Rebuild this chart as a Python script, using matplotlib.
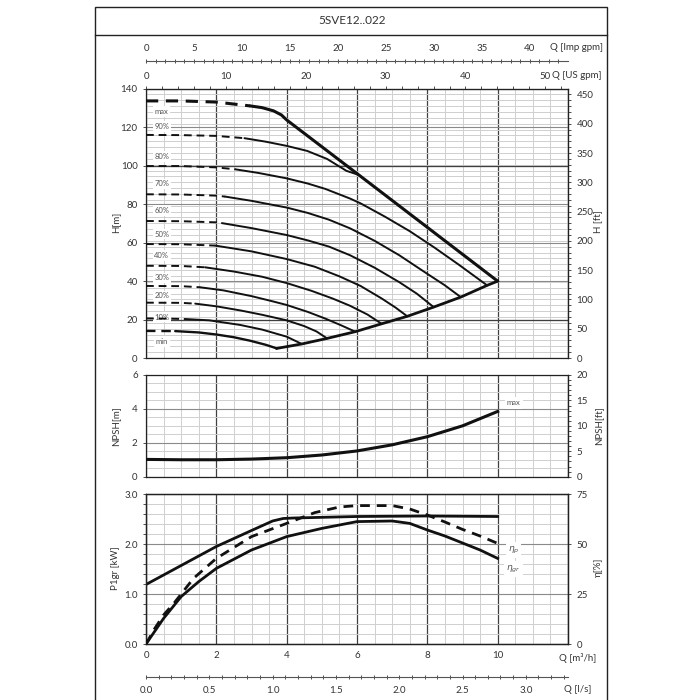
import numpy as np
import matplotlib.pyplot as plt
from matplotlib.ticker import MultipleLocator, FixedLocator, FormatStrFormatter, FuncFormatter
from matplotlib.patches import Rectangle
from matplotlib.lines import Line2D

plt.rcParams['font.family'] = ['Lato', 'DejaVu Sans']
plt.rcParams['mathtext.fontset'] = 'dejavusans'

# ---- head curves, Q [m3/h] / H [m] ----
q_max = [0, 1, 2, 2.96, 3.3, 3.63, 3.85, 4.0, 6.0, 8.0, 10.0]
h_max = [133.8, 133.8, 133.2, 131.2, 130.3, 128.6, 126.5, 123.9, 96.0, 68.0, 40.0]
q_90 = [0, 1, 2, 2.8, 3.4, 4.0, 4.58, 5.15, 5.7, 6.05]
h_90 = [116.1, 116.0, 115.6, 114.4, 112.6, 110.4, 107.8, 103.6, 97.4, 95.3]
q_80 = [0, 1, 2, 2.54, 3.2, 4.0, 4.6, 5.1, 5.8, 6.1, 6.8, 7.5, 8.2, 8.9, 9.7]
h_80 = [99.9, 99.9, 99.2, 98.2, 96.3, 93.5, 90.8, 88.0, 83.0, 80.5, 73.5, 66.0, 57.5, 48.5, 37.8]
q_70 = [0, 1, 2, 2.25, 3, 4, 4.6, 5.2, 5.8, 6.5, 7.2, 7.9, 8.5, 8.95]
h_70 = [85.2, 85.1, 84.5, 84.0, 81.8, 78.3, 75.5, 72.0, 67.5, 61.0, 53.5, 45.0, 37.8, 31.7]
q_60 = [0, 1, 2, 2.16, 3, 4, 4.6, 5.2, 5.8, 6.5, 7.2, 7.7, 8.18]
h_60 = [71.3, 71.2, 70.6, 70.2, 67.6, 64.0, 61.2, 58.0, 53.5, 47.0, 39.5, 33.5, 26.5]
q_50 = [0, 1, 1.97, 3, 4, 4.8, 5.5, 6.1, 6.7, 7.1, 7.43]
h_50 = [59.3, 59.2, 58.5, 55.5, 51.5, 47.5, 42.5, 37.5, 31.0, 26.2, 21.7]
q_40 = [0, 1, 1.68, 2.5, 3.3, 4, 4.7, 5.3, 5.8, 6.3, 6.7]
h_40 = [48.0, 47.9, 47.2, 45.0, 42.3, 39.0, 35.0, 31.0, 27.2, 22.6, 17.8]
q_30 = [0, 1, 1.54, 2.2, 3, 3.6, 4, 4.6, 5.1, 5.55, 5.95]
h_30 = [37.5, 37.4, 36.8, 35.2, 32.2, 29.5, 27.6, 24.0, 20.5, 17.0, 13.7]
q_20 = [0, 1, 1.4, 2, 2.7, 3.3, 4, 4.5, 4.85, 5.15]
h_20 = [28.8, 28.7, 28.3, 26.9, 24.7, 22.5, 19.6, 16.6, 13.8, 10.2]
q_10 = [0, 0.6, 1.1, 1.8, 2.68, 3.3, 4, 4.43]
h_10 = [20.6, 20.5, 20.3, 19.6, 17.2, 14.8, 11.1, 7.3]
q_min = [0, 0.83, 1.5, 2.01, 2.5, 2.96, 3.4, 3.72]
h_min = [14.1, 14.0, 13.3, 12.2, 10.8, 9.0, 6.9, 5.0]

# end of the dashed part (minimum flow) for each curve
minflow = [2.96, 2.8, 2.54, 2.25, 2.16, 1.97, 1.68, 1.54, 1.4, 1.1, 0.83]
speed_names = ['max', '90%', '80%', '70%', '60%', '50%', '40%', '30%', '20%', '10%', 'min']
label_h = [128.2, 120.4, 104.8, 90.6, 76.7, 64.5, 53.3, 41.8, 32.3, 21.2, 8.5]

# lower limit line joining curve ends
q_lim = [3.72, 4.43, 5.15, 5.95, 6.7, 7.43, 8.18, 8.95, 9.7, 10.0]
h_lim = [5.0, 7.3, 10.2, 13.7, 17.8, 21.7, 26.5, 31.7, 37.8, 40.0]

# ---- NPSH ----
q_npsh = [0, 1, 2, 3, 4, 5, 6, 7, 8, 9, 10]
npsh = [1.02, 1.0, 1.0, 1.04, 1.12, 1.28, 1.52, 1.88, 2.36, 3.0, 3.85]

# ---- power / efficiency ----
q_p1 = [0, 1, 2, 3, 3.6, 3.9, 4.2, 6, 8, 10]
p1 = [1.19, 1.57, 1.95, 2.27, 2.46, 2.51, 2.52, 2.55, 2.56, 2.55]
q_etap = [0, 0.25, 0.5, 0.8, 1.35, 2, 3, 4, 4.8, 5.5, 6, 7, 7.5, 8, 8.5, 9, 9.5, 10]
eta_p = [0, 7.8, 14.5, 20.5, 32.8, 42.8, 53.7, 60.3, 65.7, 68.5, 69.2, 69.2, 67.5, 64.5, 61.0, 57.3, 54.0, 50.3]
q_etagr = [0, 0.5, 1, 1.5, 2, 3, 4, 5, 6, 7, 7.5, 8, 8.5, 9, 9.5, 10]
eta_gr = [0, 12.8, 23.7, 31.2, 37.8, 47.0, 53.7, 57.8, 61.2, 61.5, 60.3, 57.0, 54.0, 50.5, 47.0, 42.8]

# tick values of the extra unit scales
usgpm_ticks = [0, 10, 20, 30, 40, 50]
impgpm_ticks = [0, 5, 10, 15, 20, 25, 30, 35, 40]
ls_ticks = [0.0, 0.5, 1.0, 1.5, 2.0, 2.5, 3.0]

M3H_TO_USGPM = 4.4029
M3H_TO_IMPGPM = 3.6662
M_TO_FT = 3.28084
NPSH_FT = 20 / 6.0

fig = plt.figure(figsize=(7, 7), dpi=100)
W = H = 700.0


def fx(px):
    return px / W


def fy(py):
    return 1 - py / H


left, right = 146, 568
ax1 = fig.add_axes([fx(left), fy(358), fx(right - left), (358 - 89) / H])
ax2 = fig.add_axes([fx(left), fy(476.7), fx(right - left), (476.7 - 375) / H])
ax3 = fig.add_axes([fx(left), fy(644), fx(right - left), (644 - 494) / H])

tick_kw = dict(labelsize=7, colors='#333', labelcolor='#333')
light = '#cfcfcf'
mid = '#8a8a8a'
dark = '#404040'

for ax in (ax1, ax2, ax3):
    ax.set_xlim(0, 12)
    ax.xaxis.set_major_locator(MultipleLocator(2))
    ax.xaxis.set_minor_locator(MultipleLocator(0.5))
    ax.grid(which='minor', axis='x', color=light, lw=0.7)
    ax.grid(which='major', axis='x', color=dark, lw=0.9)
    ax.set_axisbelow(True)
    for s in ax.spines.values():
        s.set_color('#222')
        s.set_linewidth(0.9)
    ax.tick_params(which='both', direction='out', length=2.5, width=0.6, **tick_kw)

# ---------------- head plot ----------------
ax1.set_ylim(0, 140)
ax1.yaxis.set_major_locator(MultipleLocator(20))
ax1.yaxis.set_minor_locator(FixedLocator(np.arange(0, 460, 10) / M_TO_FT))
ax1.grid(which='minor', axis='y', color=light, lw=0.7)
ax1.grid(which='major', axis='y', color=mid, lw=0.8)
ax1.axhline(20, color=dark, lw=0.9, zorder=1)
ax1.axhline(100, color=dark, lw=0.9, zorder=1)
ax1.tick_params(which='minor', axis='y', left=False)
ax1.tick_params(axis='x', which='both', bottom=False, labelbottom=False)

curves_q = [q_max, q_90, q_80, q_70, q_60, q_50, q_40, q_30, q_20, q_10, q_min]
curves_h = [h_max, h_90, h_80, h_70, h_60, h_50, h_40, h_30, h_20, h_10, h_min]
for i, (q, h) in enumerate(zip(curves_q, curves_h)):
    q = np.array(q)
    h = np.array(h)
    k = int(np.argmin(np.abs(q - minflow[i])))
    lw = 2.2 if i == 0 else (1.7 if i == 10 else 1.4)
    ax1.plot(q[:k + 1], h[:k + 1], color='#111', lw=lw, ls=(0, (4, 2.5)), zorder=4)
    ax1.plot(q[k:], h[k:], color='#111', lw=lw, zorder=4, solid_capstyle='round')
    ax1.text(0.45, label_h[i], speed_names[i], fontsize=5.5, color='#555', ha='center', va='center',
             bbox=dict(facecolor='white', edgecolor='none', pad=1.2), zorder=3)
ax1.plot(q_lim, h_lim, color='#111', lw=2.0, zorder=4)

ft_ax = ax1.secondary_yaxis('right', functions=(lambda m: m * M_TO_FT, lambda f: f / M_TO_FT))
ft_ax.yaxis.set_major_locator(MultipleLocator(50))
ft_ax.yaxis.set_minor_locator(MultipleLocator(10))
ft_ax.tick_params(which='both', direction='out', length=2.5, width=0.6, **tick_kw)
ft_ax.spines['right'].set_color('#222')

us_ax = ax1.secondary_xaxis('top', functions=(lambda q: q * M3H_TO_USGPM, lambda g: g / M3H_TO_USGPM))
us_ax.xaxis.set_major_locator(FixedLocator(usgpm_ticks))
us_ax.xaxis.set_minor_locator(FixedLocator(np.arange(0, 52.1, 2)))
us_ax.tick_params(which='both', direction='out', length=2.5, width=0.6, **tick_kw)

imp_ax = ax1.secondary_xaxis(1.104, functions=(lambda q: q * M3H_TO_IMPGPM, lambda g: g / M3H_TO_IMPGPM))
imp_ax.xaxis.set_major_locator(FixedLocator(impgpm_ticks))
imp_ax.xaxis.set_minor_locator(FixedLocator(np.arange(0, 43.5, 1)))
imp_ax.tick_params(which='both', direction='inout', length=3, width=0.6, pad=4, **tick_kw)
imp_ax.spines['top'].set_color('#555')

# ---------------- NPSH plot ----------------
ax2.set_ylim(0, 6)
ax2.yaxis.set_major_locator(MultipleLocator(2))
ax2.yaxis.set_minor_locator(MultipleLocator(0.5))
ax2.grid(which='minor', axis='y', color=light, lw=0.7)
ax2.grid(which='major', axis='y', color=mid, lw=0.8)
ax2.tick_params(which='minor', axis='y', left=False)
ax2.tick_params(axis='x', which='both', bottom=False, labelbottom=False)
ax2.plot(q_npsh, npsh, color='#111', lw=2.2, zorder=4)
ax2.text(10.46, 4.35, 'max', fontsize=5.5, color='#555', ha='center', va='center',
         bbox=dict(facecolor='white', edgecolor='none', pad=1.5), zorder=3)
npsh_ft = ax2.secondary_yaxis('right', functions=(lambda m: m * NPSH_FT, lambda f: f / NPSH_FT))
npsh_ft.yaxis.set_major_locator(MultipleLocator(5))
npsh_ft.yaxis.set_minor_locator(MultipleLocator(1))
npsh_ft.tick_params(which='both', direction='out', length=2.5, width=0.6, **tick_kw)

# ---------------- power / efficiency plot ----------------
ax3.set_ylim(0, 3)
ax3.yaxis.set_major_locator(MultipleLocator(1))
ax3.yaxis.set_minor_locator(MultipleLocator(0.2))
ax3.yaxis.set_major_formatter(FormatStrFormatter('%.1f'))
ax3.grid(which='minor', axis='y', color=light, lw=0.7)
ax3.grid(which='major', axis='y', color=mid, lw=0.8)
ax3.tick_params(which='minor', axis='y', left=False)
ax3.tick_params(axis='x', which='minor', bottom=False)
ax3.tick_params(axis='x', which='major', length=0, pad=5)
ax3.xaxis.set_major_formatter(FuncFormatter(lambda v, p: '' if v > 11 else '%d' % v))
ax3.plot(q_p1, p1, color='#111', lw=2.0, zorder=4)

eta_ax = ax3.twinx()
eta_ax.set_ylim(0, 75)
eta_ax.yaxis.set_major_locator(MultipleLocator(25))
eta_ax.tick_params(direction='out', length=2.5, width=0.6, **tick_kw)
for s in eta_ax.spines.values():
    s.set_color('#222')
    s.set_linewidth(0.9)
eta_ax.plot(q_etap, eta_p, color='#111', lw=2.0, ls=(0, (3.5, 2.5)), zorder=4)
eta_ax.plot(q_etagr, eta_gr, color='#111', lw=2.0, zorder=4)
eta_ax.text(10.45, 47, r'$\eta_p$', fontsize=6.5, color='#555', ha='center', va='center',
            bbox=dict(facecolor='white', edgecolor='none', pad=1.5))
eta_ax.text(10.45, 37.5, r'$\eta_{gr}$', fontsize=6.5, color='#555', ha='center', va='center',
            bbox=dict(facecolor='white', edgecolor='none', pad=1.5))

ls_ax = ax3.secondary_xaxis(-0.22, functions=(lambda q: q / 3.6, lambda l: l * 3.6))
ls_ax.xaxis.set_major_locator(FixedLocator(ls_ticks))
ls_ax.xaxis.set_minor_locator(FixedLocator(np.arange(0, 3.31, 0.1)))
ls_ax.xaxis.set_major_formatter(FormatStrFormatter('%.1f'))
ls_ax.tick_params(which='both', direction='inout', length=3, width=0.6, pad=5, **tick_kw)
ls_ax.spines['bottom'].set_color('#555')

# ---------------- unit labels & frame ----------------
txt = dict(fontsize=7, color='#333')
fig.text(fx(116), fy(222), 'H[m]', rotation=90, ha='center', va='center', **txt)
fig.text(fx(598), fy(222), 'H [ft]', rotation=90, ha='center', va='center', **txt)
fig.text(fx(116), fy(426), 'NPSH[m]', rotation=90, ha='center', va='center', **txt)
fig.text(fx(599), fy(426), 'NPSH[ft]', rotation=90, ha='center', va='center', **txt)
fig.text(fx(116), fy(568), 'P1gr [kW]', rotation=90, ha='center', va='center', **txt)
fig.text(fx(598), fy(567), 'η[%]', rotation=90, ha='center', va='center', **txt)
fig.text(fx(577), fy(48), 'Q [Imp gpm]', ha='center', va='center', **txt)
fig.text(fx(577), fy(75), 'Q [US gpm]', ha='center', va='center', **txt)
fig.text(fx(578), fy(658), 'Q [m³/h]', ha='center', va='center', **txt)
fig.text(fx(578), fy(690), 'Q [l/s]', ha='center', va='center', **txt)
fig.text(fx(352), fy(20), '5SVE12..022', ha='center', va='center', fontsize=8.5, color='#333')

fig.add_artist(Rectangle((fx(95), fy(712)), fx(607 - 95), (712 - 7) / H, transform=fig.transFigure,
                         fill=False, edgecolor='#222', lw=1.0))
fig.add_artist(Line2D([fx(95), fx(607)], [fy(35), fy(35)], transform=fig.transFigure,
                      color='#222', lw=1.0))

fig.savefig('out.png', dpi=100, facecolor='white')
